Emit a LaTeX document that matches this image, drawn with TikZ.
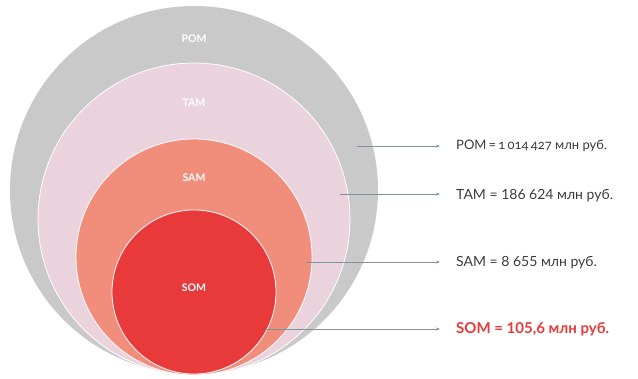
\documentclass[tikz,border=0pt]{standalone}
\usepackage{fontspec}
\setmainfont{Lato}
\usetikzlibrary{arrows.meta}
\definecolor{pomgray}{HTML}{C9C9C9}
\definecolor{tampink}{HTML}{EAD3DD}
\definecolor{samsalmon}{HTML}{F08E7B}
\definecolor{somred}{HTML}{E8393B}
\definecolor{arrowc}{HTML}{7E939B}
\definecolor{txtc}{HTML}{3C3C3C}
\tikzset{
  ring/.style={circle, draw=white, line width=0.8pt, inner sep=0pt},
  inlabel/.style={text=white, font=\fontsize{10.5}{12}\selectfont\bfseries, inner sep=0pt},
  vallabel/.style={anchor=west, inner sep=2pt, text=txtc, font=\fontsize{14}{16}\selectfont},
  arr/.style={draw=arrowc, line width=0.7pt, -{Stealth[length=4pt,width=3pt]}, shorten >=14pt}
}
\begin{document}
\begin{tikzpicture}[x=1pt,y=-1pt]
\useasboundingbox (0,0) rectangle (638,378);
\node[ring, fill=pomgray, draw=none, minimum size=368pt] (pom) at (194,190) {};
\node[ring, fill=tampink, minimum size=312pt] (tam) at (194,219) {};
\node[ring, fill=samsalmon, minimum size=236pt] (sam) at (194,257) {};
\node[ring, fill=somred, minimum size=164pt] (som) at (194,292) {};
\node[inlabel] (pomt) at (194,39) {POM};
\node[inlabel] (tamt) at (194,103) {TAM};
\node[inlabel] (samt) at (194,178) {SAM};
\node[inlabel] (somt) at (194,288) {SOM};
\coordinate (s1) at (357,146);
\coordinate (s2) at (340,194);
\coordinate (s3) at (306,262);
\coordinate (s4) at (265,329);
\node[vallabel, font=\fontsize{13}{15}\selectfont] (v1) at (454,146) {POM\,=\,{\addfontfeature{Numbers=OldStyle}1\,014\,427} млн руб.};
\node[vallabel] (v2) at (454,196) {TAM = 186 624 млн руб.};
\node[vallabel] (v3) at (454,263) {SAM = 8 655 млн руб.};
\node[vallabel, text=somred, font=\fontsize{15}{17}\selectfont\bfseries] (v4) at (454,329) {SOM = 105,6 млн руб.};
\draw[arr] (s1) -- (s1 -| v1.west);
\draw[arr] (s2) -- (s2 -| v2.west);
\draw[arr] (s3) -- (s3 -| v3.west);
\draw[arr] (s4) -- (s4 -| v4.west);
\end{tikzpicture}
\end{document}
